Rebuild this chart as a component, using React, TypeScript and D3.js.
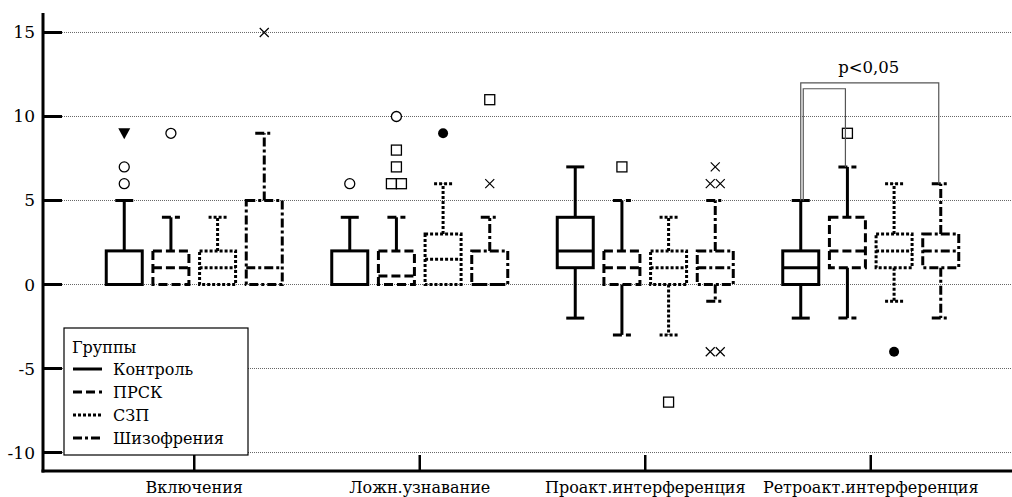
import React from "react";
import * as d3 from "d3";

const categories = ["Включения", "Ложн.узнавание", "Проакт.интерференция", "Ретроакт.интерференция"];
const groups = ["Контроль", "ПРСК", "СЗП", "Шизофрения"];
const yTicks = [-10, -5, 0, 5, 10, 15];

const statsVkl = [[0, 0, 0, 2, 5], [0, 0, 1, 2, 4], [0, 0, 1, 2, 4], [0, 0, 1, 5, 9]];
const statsLozh = [[0, 0, 0, 2, 4], [0, 0, 0.5, 2, 4], [0, 0, 1.5, 3, 6], [0, 0, 0, 2, 4]];
const statsProakt = [[-2, 1, 2, 4, 7], [-3, 0, 1, 2, 5], [-3, 0, 1, 2, 4], [-1, 0, 1, 2, 5]];
const statsRetro = [[-2, 0, 1, 2, 5], [-2, 1, 2, 4, 7], [-1, 1, 2, 3, 6], [-2, 1, 2, 3, 6]];
const allStats = [statsVkl, statsLozh, statsProakt, statsRetro];

const outliers: [number, number, number, string][] = [
  [0, 0, 6, "circle"], [0, 0, 7, "circle"], [0, 0, 9, "triangle"],
  [0, 1, 9, "circle"],
  [0, 3, 15, "cross"],
  [1, 0, 6, "circle"],
  [1, 1, 6, "square"], [1, 1, 6, "square"], [1, 1, 7, "square"], [1, 1, 8, "square"], [1, 1, 10, "circle"],
  [1, 2, 9, "dot"],
  [1, 3, 6, "cross"], [1, 3, 11, "square"],
  [2, 1, 7, "square"],
  [2, 2, -7, "square"],
  [2, 3, 7, "cross"], [2, 3, 6, "cross"], [2, 3, 6, "cross"], [2, 3, -4, "cross"], [2, 3, -4, "cross"],
  [3, 1, 9, "square"],
  [3, 2, -4, "dot"],
];

const sigLabel = "p<0,05";
const brackets: [number, number, number, number][] = [
  [3, 0, 3, 12],
  [3, 0, 1, 11.65],
];

const dashes = ["none", "9,4", "3,2", "9,3,3,3"];
const whiskerDashes = ["none", "none", "3,2", "9,3,3,3"];
const FONT = "'DejaVu Serif', serif";

export default function App() {
  const W = 1012, H = 497;
  const y = d3.scaleLinear().domain([-11.1, 16.1]).range([471, 14]);
  const x = d3.scaleBand().domain(categories).range([81.5, 983.5]);
  const gx = d3.scalePoint().domain(groups).range([-70, 70]);
  const axisX = 43;
  const axisY = y(-11.1);
  const boxW = 36;
  const capW = 18;
  const sw = 3;

  const cx = (ci: number, gi: number) => (x(categories[ci]) as number) + x.bandwidth() / 2 + (gx(groups[gi]) as number);

  const counts: Record<string, number> = {};
  outliers.forEach(([c, g, v]) => {
    const k = `${c}-${g}-${v}`;
    counts[k] = (counts[k] || 0) + 1;
  });
  const seen: Record<string, number> = {};

  const marker = (shape: string, px: number, py: number, key: string) => {
    if (shape === "circle") return <circle key={key} cx={px} cy={py} r={5} fill="white" stroke="#000" strokeWidth={1.3} />;
    if (shape === "dot") return <circle key={key} cx={px} cy={py} r={5} fill="#000" />;
    if (shape === "square") return <rect key={key} x={px - 5} y={py - 5} width={10} height={10} fill="white" stroke="#000" strokeWidth={1.3} />;
    if (shape === "triangle") return <path key={key} d={`M${px - 6},${py - 5}L${px + 6},${py - 5}L${px},${py + 6}Z`} fill="#000" />;
    return (
      <path key={key} d={`M${px - 4.5},${py - 4.5}L${px + 4.5},${py + 4.5}M${px - 4.5},${py + 4.5}L${px + 4.5},${py - 4.5}`} stroke="#000" strokeWidth={1.2} />
    );
  };

  const T = (props: any) => <text fontFamily={FONT} fill="#000" {...props} />;

  return (
    <>
      <style>{"body{margin:0}"}</style>
      <svg width={W} height={H} style={{ display: "block" }}>
        <rect width={W} height={H} fill="white" />
        {yTicks.map((t) => (
          <line key={"g" + t} x1={axisX + 19} x2={W} y1={y(t)} y2={y(t)} stroke="#666" strokeWidth={1} strokeDasharray="1,1" />
        ))}
        {allStats.map((cat, ci) =>
          cat.map(([lo, q1, med, q3, hi], gi) => {
            const c = cx(ci, gi);
            const dash = dashes[gi];
            const common = { stroke: "#000", strokeWidth: sw, strokeDasharray: dash, fill: "none" } as any;
            const wcommon = { ...common, strokeDasharray: whiskerDashes[gi] };
            return (
              <g key={`b${ci}-${gi}`}>
                {hi > q3 && <line x1={c} x2={c} y1={y(q3)} y2={y(hi)} {...wcommon} />}
                {hi > q3 && <line x1={c - capW / 2} x2={c + capW / 2} y1={y(hi)} y2={y(hi)} {...common} />}
                {lo < q1 && <line x1={c} x2={c} y1={y(q1)} y2={y(lo)} {...wcommon} />}
                {lo < q1 && <line x1={c - capW / 2} x2={c + capW / 2} y1={y(lo)} y2={y(lo)} {...common} />}
                <rect x={c - boxW / 2} y={y(q3)} width={boxW} height={y(q1) - y(q3)} {...common} />
                <line x1={c - boxW / 2} x2={c + boxW / 2} y1={y(med)} y2={y(med)} {...common} />
              </g>
            );
          })
        )}
        {outliers.map(([c, g, v, shape], i) => {
          const k = `${c}-${g}-${v}`;
          const n = counts[k];
          const idx = seen[k] || 0;
          seen[k] = idx + 1;
          const off = (idx - (n - 1) / 2) * 10;
          return marker(shape, cx(c, g) + off, y(v), "o" + i);
        })}
        {brackets.map(([c, a, b, lvl], i) => {
          const ax = cx(c, a) + (i === 0 ? 0 : 2.5);
          const bx = cx(c, b) - 2;
          const ya = y(allStats[c][a][4]);
          const yb = y(allStats[c][b][4]);
          return (
            <path key={"br" + i} d={`M${ax},${ya}L${ax},${y(lvl)}L${bx},${y(lvl)}L${bx},${yb}`} fill="none" stroke="#555" strokeWidth={1.2} />
          );
        })}
        <T x={(cx(3, 0) + cx(3, 3)) / 2 - 2} y={73} textAnchor="middle" fontSize={16.5}>{sigLabel}</T>
        <line x1={axisX} x2={axisX} y1={13} y2={axisY + 1.5} stroke="#000" strokeWidth={3} />
        <line x1={axisX - 1.5} x2={W} y1={axisY} y2={axisY} stroke="#000" strokeWidth={3} />
        {yTicks.map((t) => (
          <g key={"t" + t}>
            <line x1={axisX} x2={axisX + 19} y1={y(t)} y2={y(t)} stroke="#000" strokeWidth={3} />
            <T x={35} y={y(t) + 6} textAnchor="end" fontSize={17}>{t}</T>
          </g>
        ))}
        {categories.map((c) => {
          const px = (x(c) as number) + x.bandwidth() / 2;
          return (
            <g key={"c" + c}>
              <line x1={px} x2={px} y1={axisY} y2={axisY - 16} stroke="#000" strokeWidth={2.5} />
              <T x={px} y={493} textAnchor="middle" fontSize={16}>{c}</T>
            </g>
          );
        })}
        <g>
          <rect x={64} y={328} width={184} height={127} fill="white" stroke="#000" strokeWidth={1.2} />
          <T x={72} y={353} fontSize={16}>Группы</T>
          {groups.map((g, i) => {
            const ly = 369 + i * 23;
            return (
              <g key={"l" + g}>
                <line x1={73} x2={102} y1={ly} y2={ly} stroke="#000" strokeWidth={sw} strokeDasharray={dashes[i]} />
                <T x={113} y={ly + 6} fontSize={16}>{g}</T>
              </g>
            );
          })}
        </g>
      </svg>
    </>
  );
}
